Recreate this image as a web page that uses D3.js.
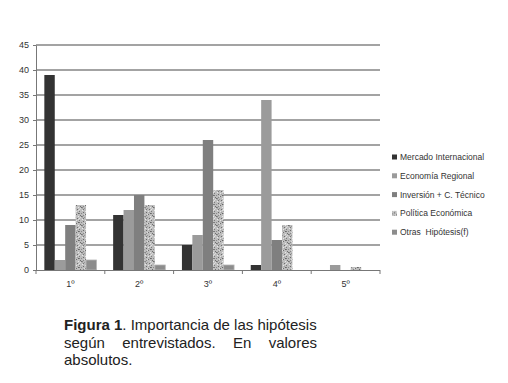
<!DOCTYPE html>
<html><head><meta charset="utf-8">
<script src="https://cdn.jsdelivr.net/npm/d3@7"></script>
<style>
body{margin:0;background:#fff;}
svg{display:block;}
</style></head>
<body>
<svg id="c" width="508" height="383"></svg>
<script>
const categories = ["1º","2º","3º","4º","5º"];
const seriesNames = ["Mercado Internacional","Economía Regional","Inversión + C. Técnico","Política Económica","Otras  Hipótesis(f)"];
const mercado  = [39, 11, 5, 1, 0];
const economia = [2, 12, 7, 34, 1];
const inversion = [9, 15, 26, 6, 0];
const politica = [13, 13, 16, 9, 0.6];
const otras    = [2, 1, 1, 0, 0];
const yTicks = [0,5,10,15,20,25,30,35,40,45];
const seriesValues = [mercado, economia, inversion, politica, otras];

const svg = d3.select("#c");
const fills = ["#333333","#9b9b9b","#7f7f7f","url(#speck)","#8c8c8c"];

// speckle pattern
const defs = svg.append("defs");
const pat = defs.append("pattern").attr("id","speck").attr("patternUnits","userSpaceOnUse")
  .attr("width",9).attr("height",9);
pat.append("rect").attr("width",9).attr("height",9).attr("fill","#bdbdbd");
const dots = [[0,0,"#6e6e6e"],[1,0,"#888"],[3,1,"#999"],[6,0,"#e8e8e8"],[1,3,"#e8e8e8"],[5,2,"#6e6e6e"],[7,4,"#7a7a7a"],
  [2,5,"#6a6a6a"],[4,4,"#e6e6e6"],[0,6,"#8a8a8a"],[6,6,"#666"],[7,6,"#7a7a7a"],[3,7,"#dcdcdc"],[5,5,"#a0a0a0"],
  [1,1,"#a8a8a8"],[7,2,"#e0e0e0"],[8,8,"#6e6e6e"],[2,8,"#888"],[4,7,"#707070"],[8,1,"#dadada"],[2,2,"#777"],[6,3,"#ddd"]];
dots.forEach(d=>pat.append("rect").attr("x",d[0]).attr("y",d[1]).attr("width",1).attr("height",1).attr("fill",d[2]));

const x = d3.scaleBand().domain(categories).range([36,380]).paddingInner(0).paddingOuter(0);
const xi = d3.scaleBand().domain(d3.range(5)).range([0,x.bandwidth()]).paddingOuter(0.8);
const y = d3.scaleLinear().domain([0,45]).range([270,45]);

// grid
svg.append("g").selectAll("line").data(yTicks.filter(t=>t>0)).join("line")
  .attr("x1",36).attr("x2",380).attr("y1",d=>y(d)).attr("y2",d=>y(d))
  .attr("stroke","#858585").attr("stroke-width",1.6);

// bars
const gb = svg.append("g");
categories.forEach((c,ci)=>{
  seriesValues.forEach((vals,si)=>{
    const v = vals[ci];
    if(v<=0) return;
    gb.append("rect")
      .attr("x", x(c)+xi(si)).attr("width", xi.bandwidth())
      .attr("y", y(v)).attr("height", y(0)-y(v))
      .attr("fill", fills[si])
      .attr("stroke", si===4 ? "#b5b5b5" : "none").attr("stroke-width", si===4?0.8:0);
  });
});

// y axis
const yAxis = d3.axisLeft(y).tickValues(yTicks).tickSize(3).tickPadding(4).tickSizeOuter(0);
const gy = svg.append("g").attr("transform","translate(36,0)").call(yAxis);
gy.select(".domain").attr("stroke","#777");
gy.selectAll(".tick line").attr("stroke","#777");
gy.selectAll("text").attr("font-family","'Liberation Sans',Arial,sans-serif").attr("font-size","9px").attr("fill","#333");

// x axis
svg.append("line").attr("x1",36).attr("x2",380).attr("y1",270.5).attr("y2",270.5).attr("stroke","#777");
const bounds = categories.map(c=>x(c)).concat([x.range()[1]]);
svg.append("g").selectAll("line").data(bounds).join("line")
  .attr("x1",d=>d).attr("x2",d=>d).attr("y1",270).attr("y2",274).attr("stroke","#777");
svg.append("g").selectAll("text").data(categories).join("text")
  .attr("x",d=>x(d)+x.bandwidth()/2).attr("y",287).attr("text-anchor","middle")
  .attr("font-family","'Liberation Sans',Arial,sans-serif").attr("font-size","9px").attr("fill","#333")
  .text(d=>d);

// legend
const lg = svg.append("g").attr("transform","translate(392,160)");
seriesNames.forEach((n,i)=>{
  const g = lg.append("g").attr("transform",`translate(0,${i*18.8})`);
  g.append("rect").attr("x",0).attr("y",-5.5).attr("width",5).attr("height",5).attr("fill",fills[i]);
  g.append("text").attr("x",8).attr("y",0).attr("font-family","'Liberation Sans',Arial,sans-serif")
    .attr("font-size","8.5px").attr("fill","#333").style("white-space","pre").attr("xml:space","preserve").text(n);
});

// caption
const capFont = "'Liberation Sans',Arial,sans-serif";
const fs = "15px";
const left = 64, right = 317;
const t1 = svg.append("text").attr("x",left).attr("y",330).attr("font-family",capFont).attr("font-size",fs).attr("fill","#222");
t1.append("tspan").attr("font-weight","bold").text("Figura 1");
t1.append("tspan").text(". Importancia de las hipótesis");
const words = ["según","entrevistados.","En","valores"];
const tmp = words.map(w=>svg.append("text").attr("font-family",capFont).attr("font-size",fs).attr("fill","#222").attr("y",347.5).text(w));
const widths = tmp.map(t=>t.node().getComputedTextLength());
const total = d3.sum(widths);
const gap = (right-left-total)/(words.length-1);
let cx = left;
tmp.forEach((t,i)=>{t.attr("x",cx); cx += widths[i]+gap;});
svg.append("text").attr("x",left).attr("y",365).attr("font-family",capFont).attr("font-size",fs).attr("fill","#222").text("absolutos.");
</script>
</body></html>
